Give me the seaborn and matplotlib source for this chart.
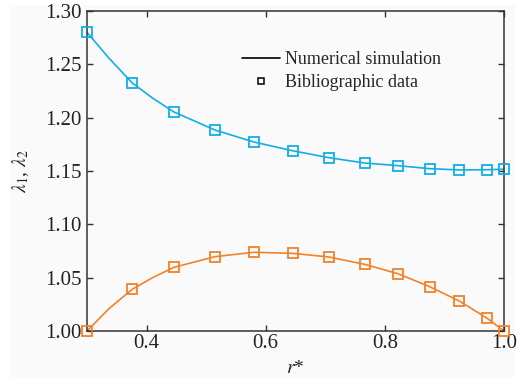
import matplotlib
matplotlib.use("Agg")
import matplotlib.pyplot as plt
from matplotlib.lines import Line2D
from matplotlib.patches import Rectangle
import seaborn as sns
import pandas as pd

# ---- data ----
r_data = [0.300, 0.376, 0.446, 0.515, 0.580, 0.645, 0.706, 0.766, 0.822, 0.875, 0.925, 0.971, 1.000]
lam1_data = [1.280, 1.2325, 1.2053, 1.1884, 1.1772, 1.1690, 1.1625, 1.1575, 1.1550, 1.1522, 1.1506, 1.1510, 1.1516]
lam2_data = [1.000, 1.0391, 1.0597, 1.0697, 1.0738, 1.0728, 1.0694, 1.0625, 1.0537, 1.0416, 1.0281, 1.0122, 1.000]

# simulation curves
r_sim = [0.300, 0.337, 0.376, 0.410, 0.446, 0.515, 0.580, 0.645, 0.706, 0.766, 0.822, 0.875, 0.925, 0.971, 1.000]
lam1_sim = [1.280, 1.2557, 1.2325, 1.2184, 1.2053, 1.1884, 1.1772, 1.1690, 1.1625, 1.1575, 1.1550, 1.1522, 1.1510, 1.1512, 1.1516]
lam2_sim = [1.000, 1.0210, 1.0391, 1.0500, 1.0597, 1.0697, 1.0738, 1.0728, 1.0694, 1.0625, 1.0537, 1.0416, 1.0281, 1.0122, 1.000]

x_ticks = [0.4, 0.6, 0.8, 1.0]
y_ticks = [1.00, 1.05, 1.10, 1.15, 1.20, 1.25, 1.30]

BLUE = "#12AEE8"
ORANGE = "#F2822A"

sns.set_style("ticks")
plt.rcParams["font.family"] = ["Liberation Serif", "DejaVu Serif"]
plt.rcParams["mathtext.fontset"] = "stix"

fig = plt.figure(figsize=(5.30, 3.84), dpi=100, facecolor="white")
fig.patches.append(Rectangle((10/530, 1-377/384), 505/530, 372/384,
                             transform=fig.transFigure, facecolor="#fafafa",
                             edgecolor="none", zorder=-10))
ax = fig.add_axes([87/530, 1-331/384, 417/530, 320/384])
ax.set_facecolor("#fafafa")

sim = pd.DataFrame({"r": r_sim, "l1": lam1_sim, "l2": lam2_sim})
dat = pd.DataFrame({"r": r_data, "l1": lam1_data, "l2": lam2_data})

sns.lineplot(data=sim, x="r", y="l1", ax=ax, color=BLUE, lw=1.2, sort=False)
sns.lineplot(data=sim, x="r", y="l2", ax=ax, color=ORANGE, lw=1.2, sort=False)
for col, c in (("l1", BLUE), ("l2", ORANGE)):
    ax.plot(dat["r"], dat[col], ls="none", marker="s", ms=7.5, mfc="none",
            mec=c, mew=1.3, clip_on=False, zorder=5)

ax.set_xlim(0.3, 1.0)
ax.set_ylim(1.0, 1.3)
ax.set_xticks(x_ticks)
ax.set_xticklabels([f"{v:.1f}" for v in x_ticks])
ax.set_yticks(y_ticks)
ax.set_yticklabels([f"{v:.2f}" for v in y_ticks])
ax.tick_params(direction="in", length=4, width=1, top=True, right=True,
               labelsize=15, color="#333333", labelcolor="#222222")
ax.tick_params(axis="y", pad=4)
ax.tick_params(axis="x", pad=2)
for s in ax.spines.values():
    s.set_visible(True)
    s.set_linewidth(1.1)
    s.set_color("#333333")

ax.set_xlabel(r"$r$*", fontsize=14, labelpad=5, color="#222222")
ax.set_ylabel(r"$\lambda_1$, $\lambda_2$", fontsize=14, labelpad=10, color="#222222")

handles = [Line2D([], [], color="black", lw=1.2),
           Line2D([], [], ls="none", marker="s", ms=4.5, mfc="none", mec="black", mew=1.1)]
ax.legend(handles, ["Numerical simulation", "Bibliographic data"], frameon=False,
          fontsize=13, loc="upper left", bbox_to_anchor=((242-87)/417, (331-51)/320),
          handlelength=2.1, handletextpad=0.3, labelspacing=0.35,
          borderaxespad=0, borderpad=0)

fig.savefig("out.png", dpi=100, facecolor=fig.get_facecolor())
